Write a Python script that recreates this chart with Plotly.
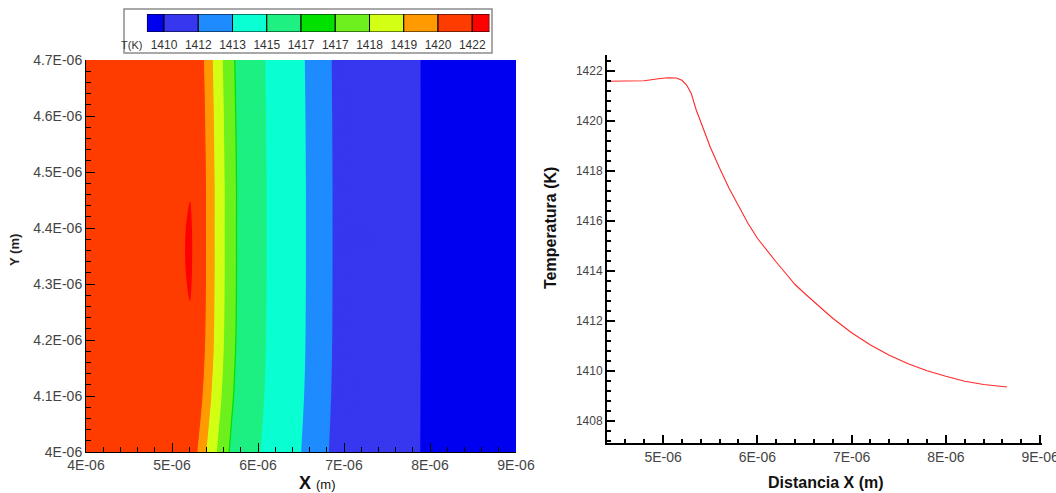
import numpy as np
import plotly.graph_objects as go

W, H = 1056, 493
FONT = "Liberation Sans, Arial, sans-serif"

# ---------------- data ----------------
# Right panel: temperature along X (micrometres, K)
line_x_um = [4.405, 4.6, 4.8, 4.95, 5.05, 5.14, 5.2, 5.25, 5.3, 5.35, 5.4, 5.5, 5.6,
             5.7, 5.8, 5.9, 6.0, 6.1, 6.2, 6.3, 6.4, 6.5, 6.6, 6.7, 6.8, 6.9, 7.0,
             7.2, 7.4, 7.6, 7.8, 8.0, 8.2, 8.4, 8.65]
line_T = [1421.58, 1421.58, 1421.60, 1421.68, 1421.72, 1421.71, 1421.62, 1421.43,
          1421.08, 1420.45, 1419.95, 1418.95, 1418.10, 1417.30, 1416.60, 1415.90,
          1415.30, 1414.80, 1414.35, 1413.90, 1413.45, 1413.10, 1412.75, 1412.43,
          1412.10, 1411.80, 1411.52, 1411.03, 1410.62, 1410.28, 1410.00, 1409.78,
          1409.58, 1409.45, 1409.35]

# Left panel: temperature map (columns in X, rows in Y, micrometres)
map_x_um = [4.0, 4.4, 4.8, 5.0, 5.15, 5.21, 5.27, 5.3, 5.35, 5.4, 5.45, 5.5, 5.55,
            5.6, 5.7, 5.8, 5.9, 6.0, 6.1, 6.2, 6.3, 6.4, 6.5, 6.6, 6.7, 6.8, 6.9,
            7.0, 7.2, 7.4, 7.6, 7.8, 8.0, 8.2, 8.4, 8.6, 9.0]
map_row_y_um = [4.0, 4.1, 4.18, 4.23, 4.32, 4.40, 4.48, 4.6, 4.7]
map_row_scale = [0.963, 0.985, 0.995, 0.998, 1.0, 1.0, 1.0, 0.996, 0.991]  # band bowing per row
map_pivot_um = 8.0
hot_x_um = 5.21
hot_rows_um = [4.32, 4.40]
hot_T = 1422.0

# Contour levels of the legend and their labels
levels = [1409.9, 1411.9, 1412.9, 1414.8, 1416.9, 1417.0, 1418.0, 1419.0, 1420.0, 1421.75]
level_labels = ["1410", "1412", "1413", "1415", "1417", "1417", "1418", "1419", "1420", "1422"]
band_colors = ["#0000f0", "#3737f0", "#1e8cff", "#0affd2", "#1ef082", "#00e100",
               "#6ef01e", "#d2ff14", "#ff9b00", "#ff3c00", "#ff0000"]

x_ticks_left = [4e-6, 5e-6, 6e-6, 7e-6, 8e-6, 9e-6]
x_ticktext_left = ["4E-06", "5E-06", "6E-06", "7E-06", "8E-06", "9E-06"]
y_ticks_left = [4.0e-6, 4.1e-6, 4.2e-6, 4.3e-6, 4.4e-6, 4.5e-6, 4.6e-6, 4.7e-6]
y_ticktext_left = ["4E-06", "4.1E-06", "4.2E-06", "4.3E-06", "4.4E-06", "4.5E-06", "4.6E-06", "4.7E-06"]
x_ticks_right = [5e-6, 6e-6, 7e-6, 8e-6, 9e-6]
x_ticktext_right = ["5E-06", "6E-06", "7E-06", "8E-06", "9E-06"]
y_ticks_right = [1408, 1410, 1412, 1414, 1416, 1418, 1420, 1422]
y_ticktext_right = ["1408", "1410", "1412", "1414", "1416", "1418", "1420", "1422"]

# ---------------- field ----------------
mx = np.array(map_x_um)
z = []
for yv, k in zip(map_row_y_um, map_row_scale):
    xs = map_pivot_um + (mx - map_pivot_um) * k
    row = np.interp(xs, line_x_um, line_T)
    if yv in hot_rows_um:
        row[map_x_um.index(hot_x_um)] = hot_T
    z.append(row.tolist())

c_start, c_end, c_size = 1409.0, 1422.01, 0.05
nc = int(np.floor((c_end - c_start) / c_size)) + 1


def pos(v):
    return ((v - c_start) / c_size + 0.5) / nc


cscale = [[0.0, band_colors[0]]]
for i, L in enumerate(levels):
    p = min(max(pos(L), 0.0), 1.0)
    cscale.append([p, band_colors[i]])
    cscale.append([p, band_colors[i + 1]])
cscale.append([1.0, band_colors[-1]])


def px(x):
    return x / W


def py(y):
    return 1 - y / H


fig = go.Figure()
fig.add_trace(go.Contour(
    x=(mx * 1e-6).tolist(), y=[v * 1e-6 for v in map_row_y_um], z=z,
    autocontour=False,
    contours=dict(start=c_start, end=c_end, size=c_size, coloring="fill", showlines=False),
    line=dict(width=0), colorscale=cscale, showscale=False,
    xaxis="x", yaxis="y", hoverinfo="skip"))

fig.add_trace(go.Scatter(
    x=[v * 1e-6 for v in line_x_um], y=line_T, mode="lines",
    line=dict(color="#ff2a2a", width=1.1), xaxis="x2", yaxis="y2", hoverinfo="skip"))

# legend boxes (equal-width, half boxes at both ends)
n_b = len(band_colors)
centers = [-0.25] + [i + 0.5 for i in range(n_b - 2)] + [n_b - 2 + 0.25]
widths = [0.5] + [1.0] * (n_b - 2) + [0.5]
fig.add_trace(go.Bar(
    x=centers, y=[1] * n_b, width=widths,
    marker=dict(color=band_colors, line=dict(color="black", width=1)),
    xaxis="x3", yaxis="y3", hoverinfo="skip"))

tickfont = dict(family=FONT, size=14, color="#444")
common = dict(showgrid=False, zeroline=False, ticks="inside", tickcolor="black",
              showline=True, linecolor="black", automargin=False, ticklabeloverflow="allow")

fig.update_layout(
    width=W, height=H, margin=dict(l=0, r=0, t=0, b=0, pad=0, autoexpand=False),
    paper_bgcolor="white", plot_bgcolor="white", showlegend=False,
    font=dict(family=FONT),
    xaxis=dict(domain=[px(86), px(516)], range=[4e-6, 9e-6], anchor="y",
               tickmode="array", tickvals=x_ticks_left, ticktext=x_ticktext_left,
               ticklen=9, tickwidth=1.2, linewidth=1, tickfont=tickfont,
               minor=dict(tick0=4e-6, dtick=0.2e-6, ticklen=5, ticks="inside", tickcolor="black"),
               **common),
    yaxis=dict(domain=[py(452), py(60)], range=[4e-6, 4.7e-6], anchor="x",
               tickmode="array", tickvals=y_ticks_left, ticktext=y_ticktext_left,
               ticklen=9, tickwidth=1.2, linewidth=1, tickfont=tickfont,
               minor=dict(tick0=4e-6, dtick=0.02e-6, ticklen=5, ticks="inside", tickcolor="black"),
               **common),
    xaxis2=dict(domain=[px(607), px(1042)], range=[4.405e-6, 9.02e-6], anchor="y2",
                tickmode="array", tickvals=x_ticks_right, ticktext=x_ticktext_right,
                ticklen=8, tickwidth=1.5, linewidth=2, tickfont=tickfont,
                minor=dict(tick0=4e-6, dtick=0.2e-6, ticklen=4, ticks="inside", tickcolor="black"),
                **common),
    yaxis2=dict(domain=[py(443), py(55)], range=[1407.11, 1422.63], anchor="x2",
                tickmode="array", tickvals=y_ticks_right, ticktext=y_ticktext_right,
                ticklen=8, tickwidth=1.5, linewidth=2,
                tickfont=dict(family=FONT, size=12, color="#444"),
                minor=dict(tick0=1408, dtick=0.4, ticklen=4, ticks="inside", tickcolor="black"),
                **common),
    xaxis3=dict(domain=[px(146.9), px(489.4)], range=[-0.5, 9.5], anchor="y3",
                tickmode="array", tickvals=list(range(len(level_labels))), ticktext=level_labels,
                ticks="", showgrid=False, zeroline=False, showline=False, automargin=False,
                ticklabelstandoff=4,
                tickfont=dict(family=FONT, size=12, color="#333"), fixedrange=True),
    yaxis3=dict(domain=[py(32), py(14)], range=[0, 1], anchor="x3", visible=False,
                automargin=False, fixedrange=True),
    shapes=[dict(type="rect", xref="paper", yref="paper", x0=px(124), x1=px(492),
                 y0=py(53), y1=py(9), line=dict(color="#8c8c8c", width=1.5),
                 fillcolor="white", layer="below")],
    annotations=[
        dict(text="T(K)", x=px(144), y=py(45), xref="paper", yref="paper",
             xanchor="right", yanchor="middle", showarrow=False,
             font=dict(family=FONT, size=11, color="#333")),
        dict(text="<b>Y (m)</b>", x=px(14), y=py(250), xref="paper", yref="paper",
             textangle=-90, xanchor="center", yanchor="middle", showarrow=False,
             font=dict(family=FONT, size=13, color="#222")),
        dict(text="<b>X</b> <span style='font-size:13px'>(m)</span>", x=px(317), y=py(483),
             xref="paper", yref="paper", xanchor="center", yanchor="middle", showarrow=False,
             font=dict(family=FONT, size=18, color="#111")),
        dict(text="<b>Distancia X (m)</b>", x=px(826), y=py(482), xref="paper", yref="paper",
             xanchor="center", yanchor="middle", showarrow=False,
             font=dict(family=FONT, size=16, color="#111")),
        dict(text="<b>Temperatura (K)</b>", x=px(550), y=py(228), xref="paper", yref="paper",
             textangle=-90, xanchor="center", yanchor="middle", showarrow=False,
             font=dict(family=FONT, size=16, color="#111")),
    ],
)

fig.write_html("out.html")
